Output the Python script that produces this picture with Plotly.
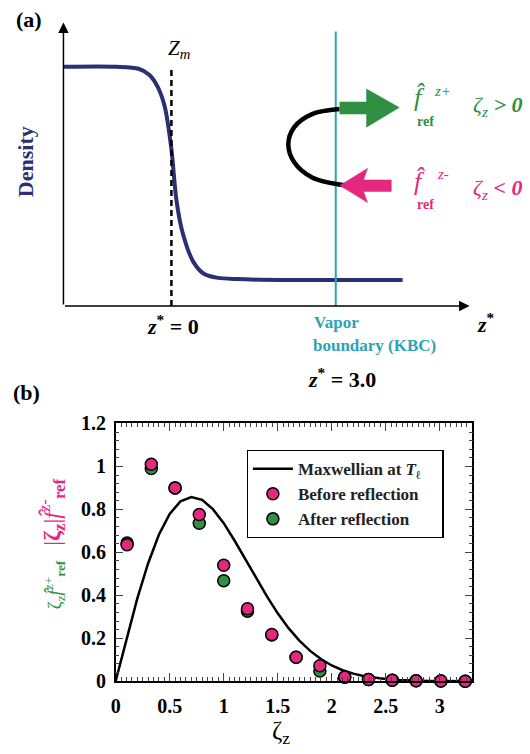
import plotly.graph_objects as go

W, H = 530, 754
SERIF = "Liberation Serif"

# ---------------- Panel (b) data ----------------
zeta_pts = [0.106, 0.33, 0.55, 0.774, 1.0, 1.22, 1.445, 1.67, 1.89, 2.12, 2.34, 2.56, 2.78, 3.01, 3.235]
before_refl = [0.635, 1.01, 0.90, 0.776, 0.54, 0.337, 0.217, 0.111, 0.072, 0.019, 0.008, 0.004, 0.002, 0.001, 0.0]
after_refl = [0.643, 0.99, 0.90, 0.735, 0.468, 0.326, 0.215, 0.111, 0.047, 0.018, 0.008, 0.004, 0.002, 0.001, 0.0]

zeta_curve = [0.0, 0.1, 0.2, 0.3, 0.4, 0.5, 0.6, 0.7, 0.8, 0.9, 1.0, 1.1, 1.2, 1.3, 1.4, 1.5, 1.6,
              1.7, 1.8, 1.9, 2.0, 2.1, 2.2, 2.3, 2.4, 2.5, 2.6, 2.7, 2.8, 2.9, 3.0, 3.1, 3.2, 3.3]
maxwellian = [0.0, 0.198, 0.384, 0.548, 0.682, 0.779, 0.837, 0.857, 0.844, 0.801, 0.736, 0.655,
              0.569, 0.480, 0.395, 0.316, 0.247, 0.189, 0.141, 0.103, 0.073, 0.051, 0.035, 0.023,
              0.015, 0.0097, 0.006, 0.0037, 0.0022, 0.0013, 0.0007, 0.0004, 0.0002, 0.0001]

x_ticks = [0, 0.5, 1, 1.5, 2, 2.5, 3]
x_ticklabels = ["0", "0.5", "1", "1.5", "2", "2.5", "3"]
y_ticks = [0, 0.2, 0.4, 0.6, 0.8, 1.0, 1.2]
y_ticklabels = ["0", "0.2", "0.4", "0.6", "0.8", "1", "1.2"]

# ---------------- Panel (a) schematic data ----------------
z_profile = [-1.97, -1.0, -0.6, -0.4, -0.25, -0.12, 0.0, 0.09, 0.2, 0.4, 0.6, 0.85, 1.2, 2.0, 3.0, 4.22]
rho_profile = [1.0, 1.0, 0.992, 0.966, 0.916, 0.832, 0.655, 0.445, 0.311, 0.185, 0.134, 0.118,
               0.113, 0.109, 0.109, 0.109]
z_interface = 0.0
z_vapor = 3.0

PINK = "#e5287f"
GREEN = "#2f8f43"
NAVY = "#2d2f73"
CYAN = "#2ea3b3"

PX_Z0, PX_PER_Z = 168.0, 55.3
PY_RHO0, PY_PER_RHO = 306.0, 238.0

# vertical layout correction (page is shown slightly compressed vertically)
V_OFF, V_SCALE = 12.5, 0.9655


def cy(py):
    return (py - V_OFF) / V_SCALE


def zx(px):
    return (px - PX_Z0) / PX_PER_Z


def ry(py):
    return (PY_RHO0 - py) / PY_PER_RHO


def px2p(px):
    return px / W


def py2p(py):
    return 1 - cy(py) / H


fig = go.Figure()

ax_kw = dict(xaxis="x2", yaxis="y2", showlegend=False, hoverinfo="skip")
fig.add_trace(go.Scatter(x=z_profile, y=rho_profile, mode="lines",
                         line=dict(color=NAVY, width=4, shape="spline", smoothing=0.8), **ax_kw))
fig.add_trace(go.Scatter(x=[z_interface, z_interface], y=[0, 1.0], mode="lines",
                         line=dict(color="black", width=2.5, dash="6px,4px"), **ax_kw))
fig.add_trace(go.Scatter(x=[z_vapor, z_vapor], y=[0, ry(33)], mode="lines",
                         line=dict(color=CYAN, width=2), **ax_kw))
arc_px = [(337.7, 110), (310, 115), (292, 128), (286, 145), (292, 163), (310, 178), (345, 186)]
fig.add_trace(go.Scatter(x=[zx(p[0]) for p in arc_px], y=[ry(p[1]) for p in arc_px], mode="lines",
                         line=dict(color="black", width=4.5, shape="spline"), **ax_kw))
g_arrow = [(338, 103), (365, 103), (365, 90), (398, 108.5), (365, 128), (365, 115), (338, 115), (338, 103)]
fig.add_trace(go.Scatter(x=[zx(p[0]) for p in g_arrow], y=[ry(p[1]) for p in g_arrow], mode="lines",
                         fill="toself", fillcolor=GREEN, line=dict(color=GREEN, width=0.5), **ax_kw))
p_arrow = [(338, 186), (366, 169), (362, 180.5), (390, 180.5), (390, 192), (362, 192), (366, 203), (338, 186)]
fig.add_trace(go.Scatter(x=[zx(p[0]) for p in p_arrow], y=[ry(p[1]) for p in p_arrow], mode="lines",
                         fill="toself", fillcolor=PINK, line=dict(color=PINK, width=0.5), **ax_kw))

fig.add_trace(go.Scatter(x=zeta_curve, y=maxwellian, mode="lines",
                         line=dict(color="black", width=2.5),
                         name="Maxwellian at <i>T</i><sub>ℓ</sub>&nbsp;&nbsp;&nbsp;&nbsp;", legendrank=1))
fig.add_trace(go.Scatter(x=zeta_pts, y=after_refl, mode="markers",
                         marker=dict(color=GREEN, size=12, line=dict(color="black", width=1.5)),
                         name="After reflection", legendrank=3, cliponaxis=False))
fig.add_trace(go.Scatter(x=zeta_pts, y=before_refl, mode="markers",
                         marker=dict(color=PINK, size=12, line=dict(color="black", width=1.5)),
                         name="Before reflection", legendrank=2, cliponaxis=False))

bold_tick = dict(family=SERIF, size=20, color="black", weight="bold")
fig.update_layout(
    width=W, height=H, margin=dict(l=0, r=0, t=0, b=0),
    paper_bgcolor="white", plot_bgcolor="white",
    font=dict(family=SERIF, color="black"),
    xaxis=dict(domain=[111.7 / W, 471.7 / W], range=[0, 3.3], anchor="y",
               tickvals=x_ticks, ticktext=x_ticklabels, tickfont=bold_tick,
               ticks="inside", ticklen=8, tickwidth=1.2, mirror="allticks",
               showline=True, linecolor="black", linewidth=1.5, showgrid=False, zeroline=False,
               minor=dict(ticks="inside", dtick=0.05, tick0=0, ticklen=4, tickwidth=1, showgrid=False),
               ticklabelstandoff=6),
    yaxis=dict(domain=[py2p(679), py2p(422.7)], range=[0, 1.2], anchor="x",
               tickvals=y_ticks, ticktext=y_ticklabels, tickfont=bold_tick,
               ticks="inside", ticklen=8, tickwidth=1.2, mirror="allticks",
               showline=True, linecolor="black", linewidth=1.5, showgrid=False, zeroline=False,
               minor=dict(ticks="inside", dtick=0.04, tick0=0, ticklen=4, tickwidth=1, showgrid=False),
               ticklabelstandoff=4),
    xaxis2=dict(domain=[0, 1], range=[zx(0), zx(W)], visible=False, anchor="y2", fixedrange=True),
    yaxis2=dict(domain=[py2p(340), 1], range=[ry(340), ry(V_OFF)], visible=False, anchor="x2",
                fixedrange=True),
    showlegend=True,
    legend=dict(x=244 / W, y=py2p(449), xanchor="left", yanchor="top",
                bordercolor="black", borderwidth=1.2, bgcolor="white",
                font=dict(family=SERIF, size=17, color="#222", weight="bold"),
                itemwidth=40, tracegroupgap=2),
)

annotations = []


def txt(text, px, py, size, color="black", bold=False, italic=False, angle=0, xanchor="center",
        yanchor="middle"):
    f = dict(family=SERIF, size=size, color=color)
    if bold:
        f["weight"] = "bold"
    if italic:
        f["style"] = "italic"
    annotations.append(dict(text=text, x=px2p(px), y=py2p(py), xref="paper", yref="paper",
                            showarrow=False, xanchor=xanchor, yanchor=yanchor, textangle=angle,
                            font=f))


annotations.append(dict(x=zx(59), y=ry(24), ax=zx(59), ay=ry(306), xref="x2", yref="y2",
                        axref="x2", ayref="y2", showarrow=True, arrowhead=2, arrowsize=1.4,
                        arrowwidth=1.5, arrowcolor="black", text=""))
annotations.append(dict(x=zx(469), y=ry(306), ax=zx(59), ay=ry(306), xref="x2", yref="y2",
                        axref="x2", ayref="y2", showarrow=True, arrowhead=2, arrowsize=1.4,
                        arrowwidth=1.5, arrowcolor="black", text=""))

txt("(a)", 24, 21, 22, bold=True)
txt("(b)", 22, 392, 22, bold=True)
txt("<i>Z</i><sub><i>m</i></sub>", 176, 50, 21)
txt("Density", 21, 162, 22, color=NAVY, bold=True, angle=-90)
txt("<i>z</i><sup>*</sup> = 0", 170, 325, 22, bold=True)
txt("Vapor", 310, 322, 17, color=CYAN, bold=True, xanchor="left")
txt("boundary (KBC)", 309, 345, 17, color=CYAN, bold=True, xanchor="left")
txt("<i>z</i><sup>*</sup> = 3.0", 340, 377, 22, bold=True)
txt("<i>z</i><sup>*</sup>", 486, 323, 22, bold=True)

txt("f̂", 418, 99, 26, color=GREEN, italic=True)
txt("z+", 442, 92, 15, color=GREEN, italic=True)
txt("ref", 424, 122, 14, color=GREEN, bold=True)
txt("ζ<sub>z</sub> <b>> 0</b>", 497, 107, 22, color=GREEN, italic=True)

txt("f̂", 418, 182, 26, color=PINK, italic=True)
txt("z-", 442, 175, 15, color=PINK, italic=True)
txt("ref", 424, 205, 14, color=PINK, bold=True)
txt("ζ<sub>z</sub> <b>< 0</b>", 497, 190, 22, color=PINK, italic=True)

txt("|<b>ζ<sub>z</sub></b>|<i>f̂</i><sup>z-</sup><sub><b>ref</b></sub>", 48, 511, 24, color=PINK, angle=-90)
txt("ζ<sub>z</sub><i>f̂</i><sup>z+</sup><sub><b>ref</b></sub>", 50, 583, 19, color=GREEN, angle=-90)
txt("ζ<sub>z</sub>", 279, 730, 25)

fig.update_layout(annotations=annotations)
fig.write_html("out.html")
